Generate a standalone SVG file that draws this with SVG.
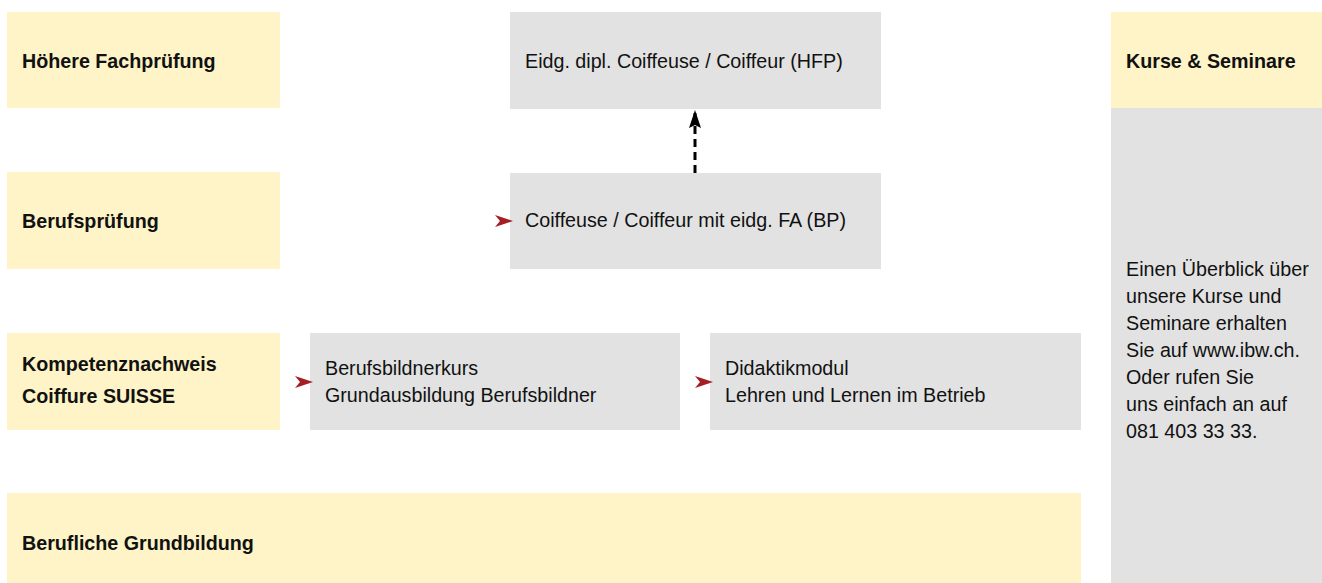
<svg xmlns="http://www.w3.org/2000/svg" width="1322" height="583" viewBox="0 0 1322 583">
<style>
.y{fill:#fef4c7}
.g{fill:#e2e2e2}
text{font-family:"Liberation Sans",Arial,sans-serif;font-size:19.7px;fill:#111}
.b{font-weight:bold}
.red{fill:#a31f24}
</style>
<defs>
<marker id="ah" viewBox="0 0 18 12" refX="18" refY="6" markerWidth="18" markerHeight="12" markerUnits="userSpaceOnUse" orient="auto">
<path d="M0,0 L18,6 L0,12 L3,6 Z" fill="#000"/>
</marker>
<path id="redhead" d="M0,-6 L18,0 L0,6 L5,0 Z"/>
</defs>
<rect width="1322" height="583" fill="#fff"/>
<g id="hfp-label"><rect class="y" x="7" y="12" width="273" height="96"/><text class="b" x="22" y="68">Höhere Fachprüfung</text></g>
<g id="hfp"><rect class="g" x="510" y="12" width="371" height="97"/><text x="525" y="68">Eidg. dipl. Coiffeuse / Coiffeur (HFP)</text></g>
<g id="bp-label"><rect class="y" x="7" y="172" width="273" height="97"/><text class="b" x="22" y="228">Berufsprüfung</text></g>
<g id="bp"><rect class="g" x="510" y="173" width="371" height="96"/><text x="525" y="227">Coiffeuse / Coiffeur mit eidg. FA (BP)</text></g>
<g id="kn-label"><rect class="y" x="7" y="333" width="273" height="97"/><text class="b" x="22" y="371">Kompetenznachweis</text><text class="b" x="22" y="403">Coiffure SUISSE</text></g>
<g id="bbk"><rect class="g" x="310" y="333" width="370" height="97"/><text x="325" y="375">Berufsbildnerkurs</text><text x="325" y="402">Grundausbildung Berufsbildner</text></g>
<g id="dm"><rect class="g" x="710" y="333" width="371" height="97"/><text x="725" y="375">Didaktikmodul</text><text x="725" y="402">Lehren und Lernen im Betrieb</text></g>
<g id="gb-label"><rect class="y" x="7" y="493" width="1074" height="90"/><text class="b" x="22" y="550">Berufliche Grundbildung</text></g>
<g id="kurse"><rect class="y" x="1111" y="12" width="211" height="96"/><rect class="g" x="1111" y="108" width="211" height="475"/><text class="b" x="1126" y="68">Kurse &amp; Seminare</text>
<text x="1126" y="276">Einen Überblick über</text>
<text x="1126" y="303">unsere Kurse und</text>
<text x="1126" y="330">Seminare erhalten</text>
<text x="1126" y="357">Sie auf www.ibw.ch.</text>
<text x="1126" y="384">Oder rufen Sie</text>
<text x="1126" y="411">uns einfach an auf</text>
<text x="1126" y="438">081 403 33 33.</text>
</g>
<g id="connectors">
<line x1="695" y1="173" x2="695" y2="110" stroke="#000" stroke-width="3" stroke-dasharray="8,5" marker-end="url(#ah)"/>
<use href="#redhead" class="red" x="495" y="221"/>
<use href="#redhead" class="red" x="295" y="382"/>
<use href="#redhead" class="red" x="695" y="382"/>
</g>
</svg>
